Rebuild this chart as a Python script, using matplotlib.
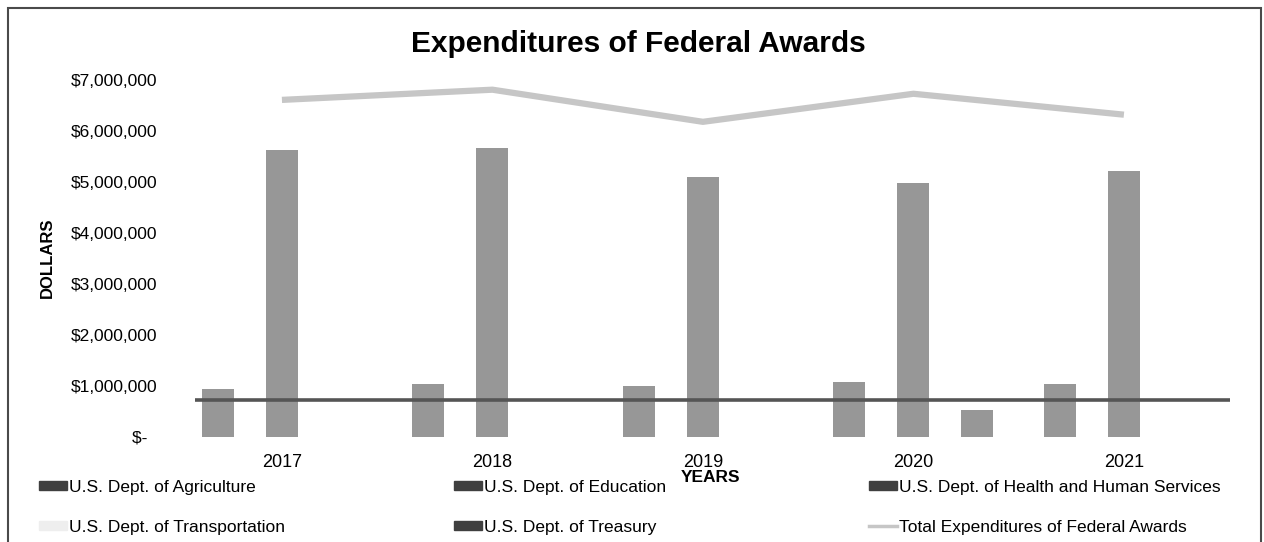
import matplotlib
matplotlib.use('Agg')
import matplotlib.pyplot as plt
from matplotlib.patches import Patch, Rectangle
from matplotlib.lines import Line2D
import numpy as np

plt.rcParams['font.family'] = ['Liberation Sans', 'DejaVu Sans']

years = ['2017', '2018', '2019', '2020', '2021']
agriculture = [0, 0, 0, 0, 0]
education = [940000, 1040000, 1000000, 1080000, 1040000]
health = [5620000, 5670000, 5100000, 4990000, 5220000]
transportation = [0, 0, 0, 530000, 0]
treasury = [0, 0, 0, 0, 0]
total = [6610000, 6810000, 6180000, 6730000, 6320000]
flat_line = 720000  # dark flat series running across the chart

series_names = ['U.S. Dept. of Agriculture', 'U.S. Dept. of Education',
                'U.S. Dept. of Health and Human Services',
                'U.S. Dept. of Transportation', 'U.S. Dept. of Treasury']
series_vals = [agriculture, education, health, transportation, treasury]
total_name = 'Total Expenditures of Federal Awards'

W, H = 1264, 542
fig = plt.figure(figsize=(W / 100, H / 100), dpi=100)
ax = fig.add_axes([195 / W, 1 - 437 / H, (1230 - 195) / W, (437 - 80) / H])

x = np.arange(len(years))
step = 0.304
width = 0.152
for i, vals in enumerate(series_vals):
    ax.bar(x + (i - 2) * step, vals, width=width, color='#979797', linewidth=0)

ax.axhline(flat_line, color='#555555', lw=2.6, zorder=3)
ax.plot(x, total, color='#c6c6c6', lw=4.5, solid_capstyle='butt', zorder=4)

ax.set_xlim(-0.413, 4.504)
ax.set_ylim(0, 7000000)
ax.set_xticks(x)
ax.set_xticklabels(years, fontsize=13)
yt = np.arange(0, 7000001, 1000000)
ax.set_yticks(yt)
ax.set_yticklabels(['$-  ' if v == 0 else '${:,.0f}'.format(v) for v in yt], fontsize=12.5)
ax.tick_params(axis='both', length=0)
ax.tick_params(axis='y', pad=27)
ax.tick_params(axis='x', pad=12)
for s in ax.spines.values():
    s.set_visible(False)

fig.text(0.505, 1 - 44 / H, 'Expenditures of Federal Awards', fontsize=21.5,
         fontweight='bold', ha='center', va='center')
fig.text(47 / W, 1 - 258 / H, 'DOLLARS', fontsize=12, fontweight='bold',
         rotation=90, ha='center', va='center')
fig.text(711 / W, 1 - 477 / H, 'YEARS', fontsize=12.5, fontweight='bold',
         ha='center', va='center')

# legend, three columns of two entries
dark = '#3f3f3f'
handles = [Patch(color=dark), Patch(color=dark), Patch(color=dark),
           Patch(color='#eeeeee'), Patch(color=dark),
           Line2D([], [], color='#c6c6c6', lw=2.5)]
labels = series_names + [total_name]
cols = [(0, 3), (1, 4), (2, 5)]
col_x = [39, 454, 869]
for (a, b), cx in zip(cols, col_x):
    fig.legend([handles[a], handles[b]], [labels[a], labels[b]],
               loc='upper left', bbox_to_anchor=(cx / W, 1 - 480 / H),
               frameon=False, fontsize=12.5, handlelength=1.6, handleheight=0.45,
               handletextpad=0.12, labelspacing=1.43, borderaxespad=0, borderpad=0)

fig.add_artist(Rectangle((8 / W, -0.05), (1261 - 8) / W, 1.05 - 8 / H,
                         transform=fig.transFigure, fill=False,
                         edgecolor='#4a4a4a', lw=1.5))

fig.savefig('out.png', dpi=100)
